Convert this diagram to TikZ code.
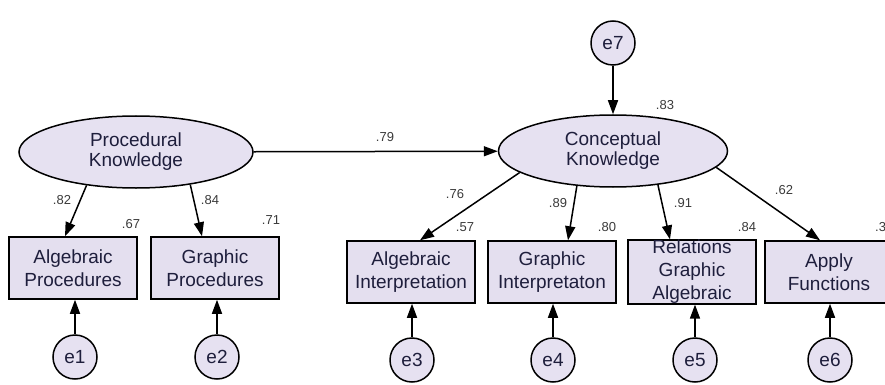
\documentclass[tikz,border=0pt]{standalone}
\usepackage{fontspec}
\setmainfont{Liberation Sans}
\usepackage{xcolor}
\definecolor{latentfill}{HTML}{E6E1F1}
\definecolor{obsfill}{HTML}{E4DFEF}
\definecolor{inktext}{HTML}{1E1E3C}
\definecolor{numgray}{HTML}{3A3A3A}
\usetikzlibrary{shapes.geometric,arrows.meta,positioning}

\begin{document}
\begin{tikzpicture}[
        x=1pt, y=-1pt,
        latent/.style={ellipse, draw, line width=1.5pt, fill=latentfill, minimum width=234pt, minimum height=72pt, inner sep=0pt, align=center, text=inktext, font=\fontsize{19}{20}\selectfont},
        obsbox/.style={rectangle, draw, line width=1.5pt, fill=obsfill, minimum width=128pt, minimum height=62pt, inner sep=0pt, align=center, text=inktext, font=\fontsize{19}{23}\selectfont},
        errc/.style={circle, draw, line width=1.5pt, fill=latentfill, minimum size=44pt, inner sep=0pt, text=inktext, font=\fontsize{19}{20}\selectfont},
        num/.style={inner sep=0pt, text=numgray, font=\fontsize{13}{13}\selectfont},
        arrow/.style={-{Triangle[length=14pt,width=10pt]}, line width=1.5pt}
    ]
        \useasboundingbox (0,0) rectangle (885,385);
        \clip (0,0) rectangle (885,385);

        % Latent variables
        \node[latent] (pk) at (136,152) {Procedural\\Knowledge};
        \node[latent, minimum width=229pt] (ck) at (613,151) {Conceptual\\Knowledge};
        \node[errc] (e7) at (613,43) {e7};

        % Observed variables
        \node[obsbox] (ap) at (73,268) {Algebraic\\Procedures};
        \node[obsbox] (gp) at (215,268) {Graphic\\Procedures};
        \node[obsbox] (ai) at (411,272) {Algebraic\\Interpretation};
        \node[obsbox] (gi) at (552,272) {Graphic\\Interpretaton};
        \node[obsbox] (rga) at (692,272) {Relations\\Graphic\\Algebraic};
        \node[obsbox] (af) at (829,272) {Apply\\Functions};

        % Error terms
        \node[errc] (e1) at (75,357) {e1};
        \node[errc] (e2) at (217,357) {e2};
        \node[errc] (e3) at (412,360) {e3};
        \node[errc] (e4) at (553,360) {e4};
        \node[errc] (e5) at (695,360) {e5};
        \node[errc] (e6) at (830,360) {e6};

        % Paths
        \draw[arrow] (pk) -- (ck);
        \draw[arrow] (e7) -- (ck);
        \draw[arrow] (pk.214) -- ([xshift=-8pt]ap.north);
        \draw[arrow] (pk.329) -- ([xshift=-13pt]gp.north);
        \draw[arrow] (ck.193) -- ([xshift=9pt]ai.north);
        \draw[arrow] (ck.224) -- ([xshift=16pt]gi.north);
        \draw[arrow] (ck.323) -- ([xshift=-22pt]rga.north);
        \draw[arrow] (ck.351) -- ([xshift=-9pt]af.north);
        \foreach \e/\b in {e1/ap, e2/gp, e3/ai, e4/gi, e5/rga, e6/af}
            \draw[arrow] (\e) -- (\e |- \b.south);

        % Estimates
        \node[num] (w79) at (385,137) {.79};
        \node[num] (r83) at (665,105) {.83};
        \node[num] (w82) at (62,200) {.82};
        \node[num] (w84) at (210,200) {.84};
        \node[num] (r67) at (131,224) {.67};
        \node[num] (r71) at (271,220) {.71};
        \node[num] (w76) at (455,194) {.76};
        \node[num] (r57) at (465,227) {.57};
        \node[num] (w89) at (558,203) {.89};
        \node[num] (r80) at (607,227) {.80};
        \node[num] (w91) at (683,203) {.91};
        \node[num] (r84) at (747,227) {.84};
        \node[num] (w62) at (784,190) {.62};
        \node[num, anchor=west] (r3x) at (875,227) {.3};

    \end{tikzpicture}
\end{document}
